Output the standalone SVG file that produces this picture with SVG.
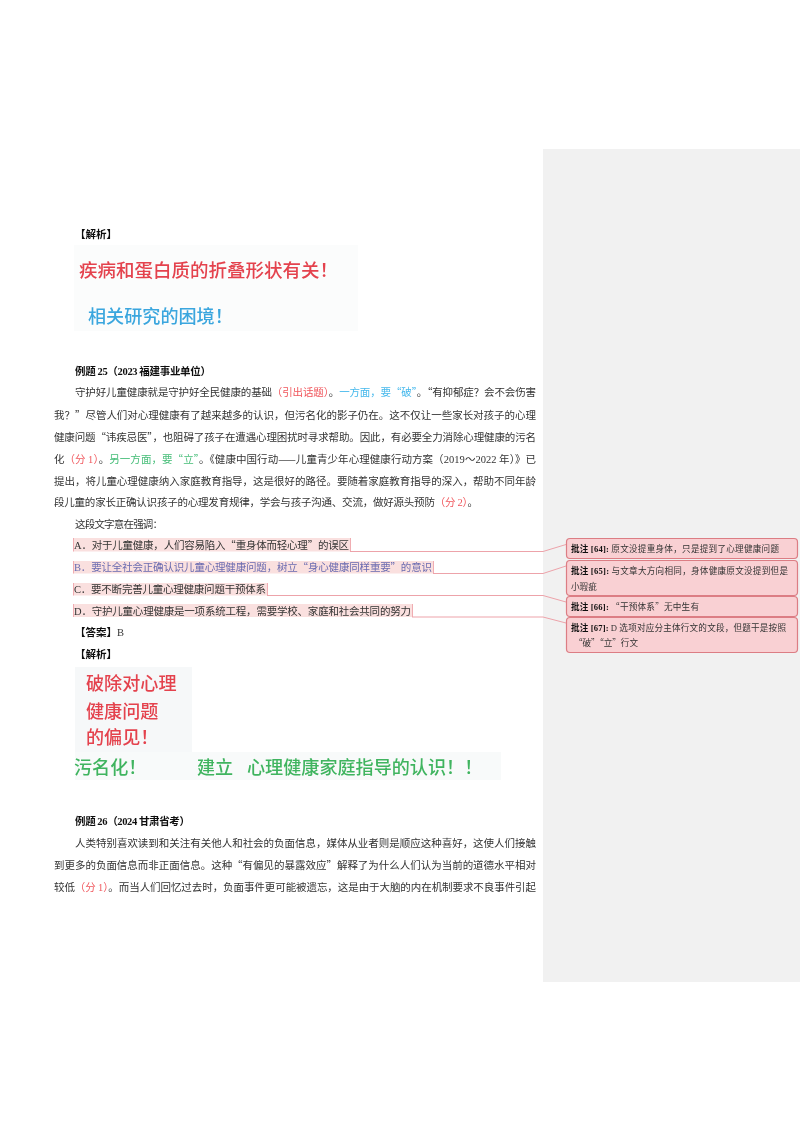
<svg xmlns="http://www.w3.org/2000/svg" width="800" height="1132" viewBox="0 0 800 1132">
<defs><filter id="soft" x="0" y="0" width="100%" height="100%"><feGaussianBlur stdDeviation="0.35"/></filter></defs>
<style>
text{font-family:"Noto Sans CJK SC","Liberation Serif",serif;font-size:10.5px;fill:#333}
.l{font-family:"Liberation Serif","Noto Sans CJK SC",serif}
.b{font-weight:700;fill:#111}
.r{fill:#f0565c}.c{fill:#45b8ec}.g{fill:#45bd78}
.hl{fill:#fae0df}
.edge{fill:none;stroke:#eda3aa;stroke-width:1}
.vbar{fill:#f0adb2}
.box{fill:#f9d0d3;stroke:#dc7d84;stroke-width:1.2}
.note{font-size:8.6px}
.nb{font-weight:700;fill:#111}
.pic{font-family:"Noto Sans CJK SC","Noto Sans",sans-serif;font-size:18.500px;font-weight:500}
.pic2{font-size:18.100px}
.pr{fill:#e4434e}.pb{fill:#3aa6de}.pg{fill:#3fb45f}
</style>
<rect width="800" height="1132" fill="#fff"/>
<g filter="url(#soft)">
<rect id="comment-margin" x="543" y="149" width="257" height="833" fill="#f1f1f1"/>

<g id="analysis-1">
<text class="b" x="75" y="238">【解析】</text>
<rect x="74" y="245" width="284" height="86" fill="#fbfcfc"/>
<text class="pic pr" x="79" y="277">疾病和蛋白质的折叠形状有关！</text>
<text class="pic pic2 pb" x="88" y="322.500">相关研究的困境！</text>
</g>

<g id="example-25">
<text class="b" x="75" y="375" textLength="136">例题 <tspan class="l">25</tspan>（<tspan class="l">2023</tspan> 福建事业单位）</text>
<text x="75" y="396" textLength="461">守护好儿童健康就是守护好全民健康的基础<tspan class="r">（引出话题）</tspan>。<tspan class="c">一方面，要“破”</tspan>。“有抑郁症？会不会伤害</text>
<text x="54" y="418.500" textLength="482">我？”尽管人们对心理健康有了越来越多的认识，但污名化的影子仍在。这不仅让一些家长对孩子的心理</text>
<text x="54" y="440.500" textLength="482">健康问题“讳疾忌医”，也阻碍了孩子在遭遇心理困扰时寻求帮助。因此，有必要全力消除心理健康的污名</text>
<text x="54" y="462.500" textLength="482">化<tspan class="r">（分 <tspan class="l">1</tspan>）</tspan>。<tspan class="g">另一方面，要“立”</tspan>。《健康中国行动——儿童青少年心理健康行动方案（<tspan class="l">2019</tspan>～<tspan class="l">2022</tspan> 年）》已</text>
<text x="54" y="484.500" textLength="482">提出，将儿童心理健康纳入家庭教育指导，这是很好的路径。要随着家庭教育指导的深入，帮助不同年龄</text>
<text x="54" y="506" textLength="424">段儿童的家长正确认识孩子的心理发育规律，学会与孩子沟通、交流，做好源头预防<tspan class="r">（分 <tspan class="l">2</tspan>）</tspan>。</text>
<text x="75" y="528" textLength="88">这段文字意在强调：</text>
</g>

<g id="option-a">
<rect class="hl" x="73.500" y="538" width="276.500" height="13.500"/>
<rect class="vbar" x="73" y="538" width="1" height="13.500"/>
<rect class="vbar" x="350" y="538" width="1" height="13.500"/>
<text x="74" y="549" textLength="275"><tspan class="l">A</tspan>．对于儿童健康，人们容易陷入“重身体而轻心理”的误区</text>
</g>
<g id="option-b">
<rect class="hl" x="73.500" y="561" width="359.500" height="12.500"/>
<rect class="vbar" x="73" y="561" width="1" height="12.500"/>
<rect class="vbar" x="433" y="561" width="1" height="12.500"/>
<text x="74" y="571" textLength="358" style="fill:#6a6bb0"><tspan class="l">B</tspan>．要让全社会正确认识儿童心理健康问题，树立“身心健康同样重要”的意识</text>
</g>
<g id="option-c">
<rect class="hl" x="73.500" y="583" width="193.500" height="12.500"/>
<rect class="vbar" x="73" y="583" width="1" height="12.500"/>
<rect class="vbar" x="267" y="583" width="1" height="12.500"/>
<text x="74" y="593" textLength="192"><tspan class="l">C</tspan>．要不断完善儿童心理健康问题干预体系</text>
</g>
<g id="option-d">
<rect class="hl" x="73.500" y="604" width="338.500" height="13"/>
<rect class="vbar" x="73" y="604" width="1" height="13"/>
<rect class="vbar" x="412" y="604" width="1" height="13"/>
<text x="74" y="615" textLength="337"><tspan class="l">D</tspan>．守护儿童心理健康是一项系统工程，需要学校、家庭和社会共同的努力</text>
</g>

<g id="answer">
<text x="75" y="636"><tspan class="b">【答案】</tspan><tspan class="l">B</tspan></text>
<text class="b" x="75" y="658">【解析】</text>
</g>

<g id="analysis-2">
<rect x="75" y="667" width="117" height="85" fill="#f6f8f9"/>
<rect x="75" y="752" width="426" height="28" fill="#f8fafa"/>
<text class="pic pic2 pr" x="86" y="690">破除对心理</text>
<text class="pic pic2 pr" x="86" y="718">健康问题</text>
<text class="pic pic2 pr" x="86" y="744">的偏见！</text>
<text class="pic pic2 pg" x="74" y="773.500">污名化！</text>
<text class="pic pic2 pg" x="197" y="773.500">建立</text>
<text class="pic pic2 pg" x="247" y="773.500">心理健康家庭指导的认识！！</text>
</g>

<g id="example-26">
<text class="b" x="75" y="825" textLength="115">例题 <tspan class="l">26</tspan>（<tspan class="l">2024</tspan> 甘肃省考）</text>
<text x="75" y="847" textLength="461">人类特别喜欢读到和关注有关他人和社会的负面信息，媒体从业者则是顺应这种喜好，这使人们接触</text>
<text x="54" y="869" textLength="482">到更多的负面信息而非正面信息。这种“有偏见的暴露效应”解释了为什么人们认为当前的道德水平相对</text>
<text x="54" y="891" textLength="482">较低<tspan class="r">（分 <tspan class="l">1</tspan>）</tspan>。而当人们回忆过去时，负面事件更可能被遗忘，这是由于大脑的内在机制要求不良事件引起</text>
</g>

<g id="connectors">
<path class="edge" d="M350 551.500H543L566 544.500"/>
<path class="edge" d="M433 573.500H543L566 566"/>
<path class="edge" d="M267 595.500H543L566 602"/>
<path class="edge" d="M412 617H543L566 623"/>
</g>

<g id="comment-64">
<rect class="box" x="566.500" y="538.500" width="231" height="20" rx="3.500"/>
<text class="note" x="571" y="551.500" textLength="208"><tspan class="nb">批注 <tspan class="l">[64]:</tspan></tspan> 原文没提重身体，只是提到了心理健康问题</text>
</g>
<g id="comment-65">
<rect class="box" x="566.500" y="560.500" width="231" height="35" rx="3.500"/>
<text class="note" x="571" y="573.500" textLength="217"><tspan class="nb">批注 <tspan class="l">[65]:</tspan></tspan> 与文章大方向相同，身体健康原文没提到但是</text>
<text class="note" x="571" y="589.500">小瑕疵</text>
</g>
<g id="comment-66">
<rect class="box" x="566.500" y="596.500" width="231" height="20" rx="3.500"/>
<text class="note" x="571" y="610" textLength="128"><tspan class="nb">批注 <tspan class="l">[66]:</tspan></tspan> “干预体系”无中生有</text>
</g>
<g id="comment-67">
<rect class="box" x="566.500" y="617.500" width="231" height="35" rx="3.500"/>
<text class="note" x="571" y="631" textLength="215"><tspan class="nb">批注 <tspan class="l">[67]:</tspan></tspan> <tspan class="l">D</tspan> 选项对应分主体行文的文段，但题干是按照</text>
<text class="note" x="574" y="646" textLength="64">“破”“立”行文</text>
</g>
</g>
</svg>
